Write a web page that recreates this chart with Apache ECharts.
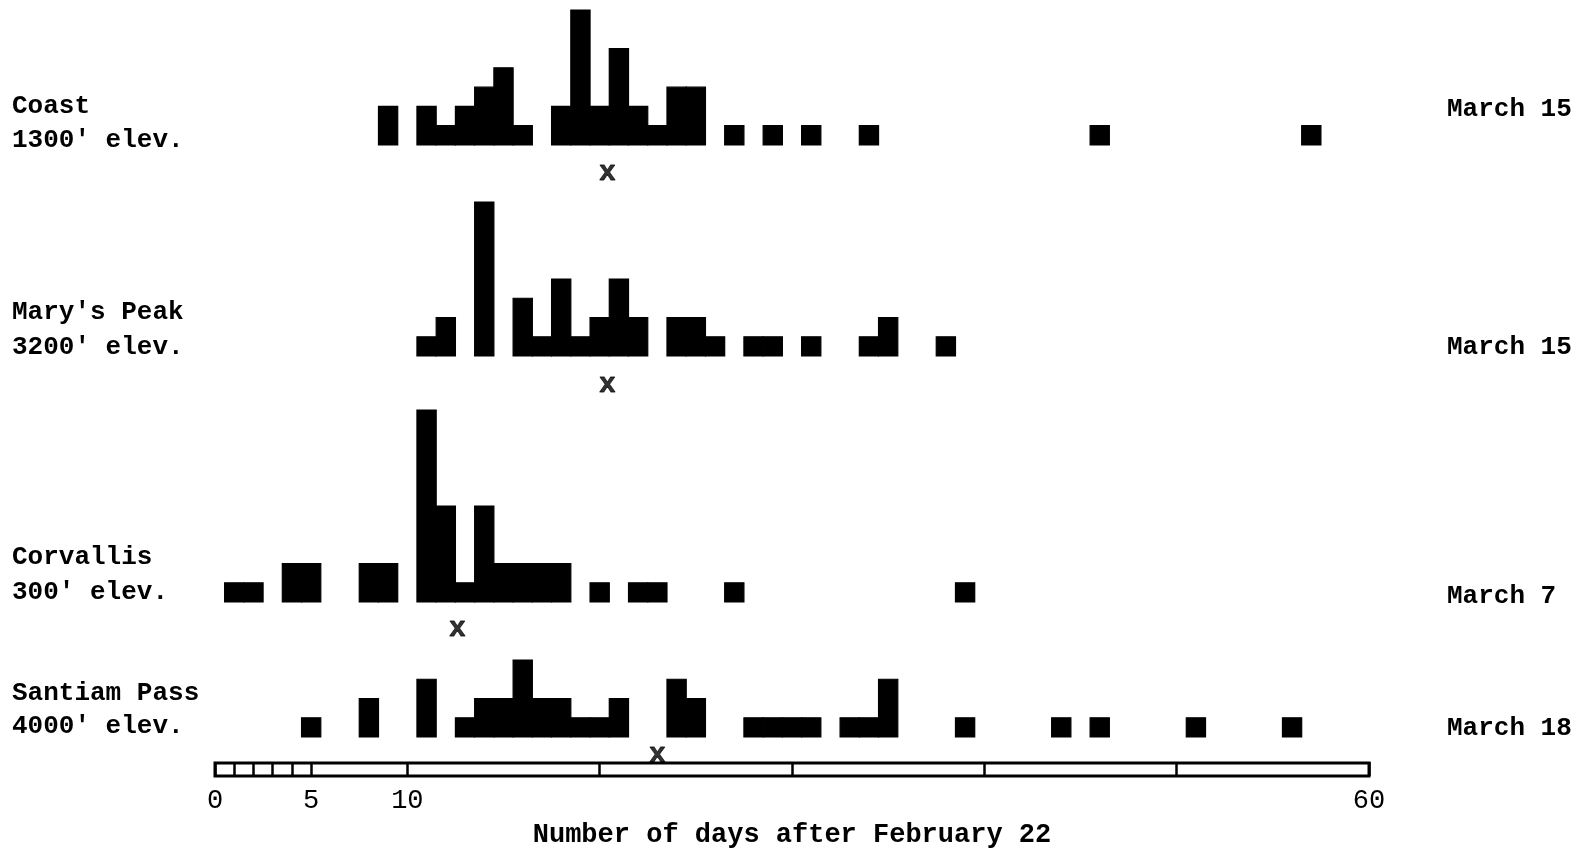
<!DOCTYPE html>
<html><head><meta charset="utf-8">
<script src="https://cdn.jsdelivr.net/npm/echarts@6/dist/echarts.min.js"></script>
<style>html,body{margin:0;padding:0;background:#fff}#c{width:1585px;height:850px}</style>
</head><body><div id="c"></div>
<script>
// ---------- data ----------
const stations = ['Coast', "Mary's Peak", 'Corvallis', 'Santiam Pass'];
const elevations = ["1300' elev.", "3200' elev.", "300' elev.", "4000' elev."];
const meanDates = ['March 15', 'March 15', 'March 7', 'March 18'];
const meanDays = [20.4, 20.4, 12.6, 23.0];

const coastDays   = [9, 11, 12, 13, 14, 15, 16, 18, 19, 20, 21, 22, 23, 24, 25, 27, 29, 31, 34, 46, 57];
const coastCounts = [2, 2, 1, 2, 3, 4, 1, 2, 7, 2, 5, 2, 1, 3, 3, 1, 1, 1, 1, 1, 1];

const marysDays   = [11, 12, 14, 16, 17, 18, 19, 20, 21, 22, 24, 25, 26, 28, 29, 31, 34, 35, 38];
const marysCounts = [1, 2, 8, 3, 1, 4, 1, 2, 4, 2, 2, 2, 1, 1, 1, 1, 1, 2, 1];

const corvallisDays   = [1, 2, 4, 5, 8, 9, 11, 12, 13, 14, 15, 16, 17, 18, 20, 22, 23, 27, 39];
const corvallisCounts = [1, 1, 2, 2, 2, 2, 10, 5, 1, 5, 2, 2, 2, 2, 1, 1, 1, 1, 1];

const santiamDays   = [5, 8, 11, 13, 14, 15, 16, 17, 18, 19, 20, 21, 24, 25, 28, 29, 30, 31, 33, 34, 35, 39, 44, 46, 51, 56];
const santiamCounts = [1, 2, 3, 1, 2, 2, 4, 2, 2, 1, 1, 2, 3, 2, 1, 1, 1, 1, 1, 1, 3, 1, 1, 1, 1, 1];

const tickValues = [0, 1, 2, 3, 4, 5, 10, 20, 30, 40, 50, 60];
const tickLabelValues = [0, 5, 10, 60];
const axisTitle = 'Number of days after February 22';

// ---------- layout ----------
const FONT = '"Liberation Mono", "DejaVu Sans Mono", monospace';
const LEFT = 215, WIDTH = 1154;
const rows = [
  {days: coastDays, counts: coastCounts, top: 10, height: 135, max: 7, markDist: 14, nameY: 106, elevY: 140, dateY: 109},
  {days: marysDays, counts: marysCounts, top: 202, height: 154, max: 8, markDist: 15, nameY: 312, elevY: 347, dateY: 347},
  {days: corvallisDays, counts: corvallisCounts, top: 410, height: 192, max: 10, markDist: 13, nameY: 557, elevY: 592, dateY: 596},
  {days: santiamDays, counts: santiamCounts, top: 660, height: 77, max: 4, markDist: 4, nameY: 693, elevY: 726, dateY: 728}
];

function renderBar(params, api) {
  const d = api.value(0), v = api.value(1);
  const p0 = api.coord([d - 0.5, v]);
  const p1 = api.coord([d + 0.5, 0]);
  return {
    type: 'rect',
    shape: {x: p0[0], y: p0[1], width: p1[0] - p0[0], height: p1[1] - p0[1]},
    style: {fill: '#000', stroke: '#000', lineWidth: 1.2}
  };
}

const grid = [], xAxis = [], yAxis = [], series = [], graphic = [];
rows.forEach((r, i) => {
  grid.push({left: LEFT, top: r.top, width: WIDTH, height: r.height});
  xAxis.push({type: 'value', gridIndex: i, min: 0, max: 60, show: false});
  yAxis.push({type: 'value', gridIndex: i, min: 0, max: r.max, show: false});
  series.push({
    type: 'custom', xAxisIndex: i, yAxisIndex: i, renderItem: renderBar, clip: false,
    data: r.days.map((d, k) => [d, r.counts[k]])
  });
  series.push({
    type: 'scatter', xAxisIndex: i, yAxisIndex: i, symbolSize: 0, clip: false,
    data: [[meanDays[i], 0]],
    label: {show: true, formatter: 'x', position: 'bottom', distance: r.markDist,
            fontFamily: FONT, fontWeight: 'bold', fontSize: 28, color: '#000',
            textBorderColor: '#000', textBorderWidth: 0.8},
    z: 5
  });
  graphic.push({type: 'text', left: 12, top: r.nameY - 13,
    style: {text: stations[i], font: 'bold 26px ' + FONT, fill: '#000'}});
  graphic.push({type: 'text', left: 12, top: r.elevY - 13,
    style: {text: elevations[i], font: 'bold 26px ' + FONT, fill: '#000'}});
  graphic.push({type: 'text', left: 1447, top: r.dateY - 13,
    style: {text: meanDates[i], font: 'bold 26px ' + FONT, fill: '#000'}});
});

// ruler axis
grid.push({left: LEFT, top: 763, width: WIDTH, height: 14, show: true, borderColor: '#000', borderWidth: 3, backgroundColor: '#fff'});
xAxis.push({
  type: 'value', gridIndex: 4, min: 0, max: 60,
  axisLine: {show: false},
  axisTick: {show: true, inside: true, length: 14, customValues: tickValues, lineStyle: {color: '#000', width: 2.5}},
  axisLabel: {show: true, customValues: tickLabelValues, margin: 11, fontFamily: FONT, fontSize: 27, color: '#000'},
  splitLine: {show: false},
  name: axisTitle, nameLocation: 'middle', nameGap: 46,
  nameTextStyle: {fontFamily: FONT, fontWeight: 'bold', fontSize: 27, color: '#000'}
});
yAxis.push({type: 'value', gridIndex: 4, min: 0, max: 1, show: false});

const chart = echarts.init(document.getElementById('c'), null, {renderer: 'canvas'});
chart.setOption({
  backgroundColor: '#fff',
  animation: false,
  grid, xAxis, yAxis, series, graphic
});
</script>
</body></html>
